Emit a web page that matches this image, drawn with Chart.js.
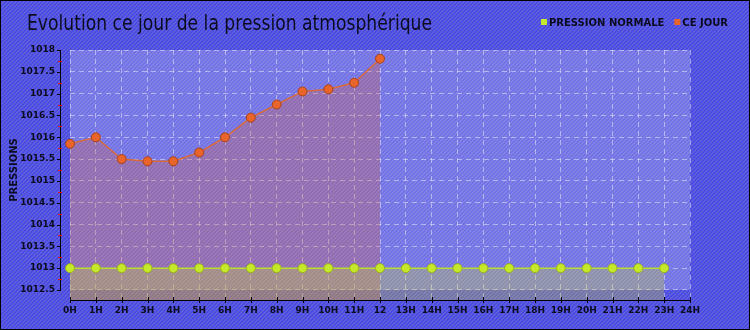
<!DOCTYPE html>
<html>
<head>
<meta charset="utf-8">
<script src="https://cdn.jsdelivr.net/npm/chart.js@4"></script>
<style>
  html, body { margin: 0; padding: 0; background: #5252dd; }
</style>
</head>
<body>
<canvas id="chart" width="750" height="330"></canvas>
<script>
const hours = ['0H', '1H', '2H', '3H', '4H', '5H', '6H', '7H', '8H', '9H', '10H', '11H', '12',
  '13H', '14H', '15H', '16H', '17H', '18H', '19H', '20H', '21H', '22H', '23H', '24H'];
const normalPressure = [1013, 1013, 1013, 1013, 1013, 1013, 1013, 1013, 1013, 1013, 1013, 1013,
  1013, 1013, 1013, 1013, 1013, 1013, 1013, 1013, 1013, 1013, 1013, 1013];
const todayPressure = [1015.85, 1016.0, 1015.5, 1015.45, 1015.45, 1015.65, 1016.0, 1016.45,
  1016.75, 1017.05, 1017.1, 1017.25, 1017.8];
const yTicks = [1012.5, 1013, 1013.5, 1014, 1014.5, 1015, 1015.5, 1016, 1016.5, 1017, 1017.5, 1018];

const titleText = 'Evolution ce jour de la pression atmosphérique';
const labelFont = { family: 'DejaVu Sans', size: 9, weight: 'bold' };

// diagonal stripes like the original background
function stripes(c1, c2) {
  const p = document.createElement('canvas');
  p.width = 4; p.height = 4;
  const g = p.getContext('2d');
  g.fillStyle = c1;
  g.fillRect(0, 0, 4, 4);
  g.fillStyle = c2;
  for (let x = 0; x < 4; x++) {
    for (let y = 0; y < 4; y++) {
      if ((x + y) % 4 < 2) g.fillRect(x, y, 1, 1);
    }
  }
  return g.createPattern(p, 'repeat');
}

const decor = {
  id: 'decor',
  beforeDraw(chart) {
    const ctx = chart.ctx;
    const area = chart.chartArea;
    const ys = chart.scales.y;
    ctx.save();
    ctx.fillStyle = stripes('#4848e2', '#6060dc');
    ctx.fillRect(0, 0, chart.width, chart.height);
    // lighter plot background
    ctx.fillStyle = 'rgba(255,255,255,0.22)';
    const bottom = ys.getPixelForValue(yTicks[0]);
    ctx.fillRect(area.left, area.top, area.right - area.left, bottom - area.top);
    // frame
    ctx.strokeStyle = '#000';
    ctx.lineWidth = 1;
    ctx.strokeRect(0.5, 0.5, chart.width - 1, chart.height - 1);
    // title, squeezed to the width of the original condensed face
    ctx.fillStyle = '#0c0c20';
    ctx.font = '21px "DejaVu Sans", sans-serif';
    ctx.textBaseline = 'alphabetic';
    const tw = ctx.measureText(titleText).width;
    ctx.save();
    ctx.translate(27, 30);
    ctx.scale(405 / tw, 1);
    ctx.fillText(titleText, 0, 0);
    ctx.restore();
    // legend
    ctx.font = 'bold 10px "DejaVu Sans"';
    let x = 541;
    chart.data.datasets.forEach(ds => {
      ctx.fillStyle = ds.pointBackgroundColor;
      ctx.fillRect(x, 19, 6, 6);
      ctx.fillStyle = '#0c0c20';
      const t = ds.label.toUpperCase();
      ctx.fillText(t, x + 8, 26);
      x += 8 + ctx.measureText(t).width + 10;
    });
    // y axis title
    ctx.translate(17, 170);
    ctx.rotate(-Math.PI / 2);
    ctx.textAlign = 'center';
    ctx.fillText('PRESSIONS', 0, 0);
    ctx.restore();
  },
  afterDraw(chart) {
    const ctx = chart.ctx;
    const area = chart.chartArea;
    const ys = chart.scales.y;
    const xs = chart.scales.x;
    ctx.save();
    ctx.lineWidth = 1;
    ctx.strokeStyle = '#000';
    // y axis
    const yTop = ys.getPixelForValue(yTicks[yTicks.length - 1]);
    const yBot = ys.getPixelForValue(yTicks[0]);
    ctx.beginPath();
    ctx.moveTo(60.5, yTop);
    ctx.lineTo(60.5, yBot);
    yTicks.forEach(v => {
      const p = Math.round(ys.getPixelForValue(v)) + 0.5;
      ctx.moveTo(57, p);
      ctx.lineTo(61, p);
    });
    ctx.stroke();
    ctx.strokeStyle = '#e01010';
    ctx.beginPath();
    for (let i = 0; i < yTicks.length - 1; i++) {
      const p = Math.round(ys.getPixelForValue((yTicks[i] + yTicks[i + 1]) / 2)) + 0.5;
      ctx.moveTo(58, p);
      ctx.lineTo(62, p);
    }
    ctx.stroke();
    // x axis
    ctx.strokeStyle = '#000';
    ctx.beginPath();
    ctx.moveTo(area.left, area.bottom + 0.5);
    ctx.lineTo(area.right, area.bottom + 0.5);
    hours.forEach((h, i) => {
      const p = Math.round(xs.getPixelForValue(i)) + 0.5;
      ctx.moveTo(p, area.bottom - 3);
      ctx.lineTo(p, area.bottom + 3);
    });
    ctx.stroke();
    ctx.restore();
  }
};

const gridColor = 'rgba(255,255,255,0.45)';

new Chart(document.getElementById('chart'), {
  type: 'line',
  data: {
    labels: hours,
    datasets: [
      {
        label: 'Pression normale',
        data: normalPressure,
        borderColor: '#b8dc30',
        borderWidth: 1.5,
        backgroundColor: 'rgba(205,215,50,0.3)',
        fill: 'start',
        pointRadius: 4.5,
        pointBackgroundColor: '#c6e82a',
        pointBorderColor: '#9cb41c',
        pointBorderWidth: 1,
        tension: 0
      },
      {
        label: 'Ce jour',
        data: todayPressure,
        borderColor: '#d86a3c',
        borderWidth: 1.5,
        backgroundColor: 'rgba(215,100,70,0.3)',
        fill: 'start',
        pointRadius: 4.5,
        pointBackgroundColor: '#e8642a',
        pointBorderColor: '#a8421c',
        pointBorderWidth: 1,
        tension: 0
      }
    ]
  },
  options: {
    responsive: false,
    animation: false,
    layout: { padding: { top: 50, right: 60, left: 0, bottom: 0 } },
    plugins: {
      legend: { display: false },
      title: { display: false },
      tooltip: { enabled: false }
    },
    scales: {
      x: {
        offset: false,
        grid: { color: gridColor, drawTicks: false },
        border: { display: false, dash: [5, 4] },
        ticks: { color: '#0c0c20', font: labelFont, padding: 5, maxRotation: 0, autoSkip: false },
        afterFit: s => { s.height = 30; }
      },
      y: {
        min: 1012.27,
        max: 1018,
        afterBuildTicks: s => { s.ticks = yTicks.map(v => ({ value: v })); },
        grid: { color: gridColor, drawTicks: false },
        border: { display: false, dash: [5, 4] },
        ticks: { color: '#0c0c20', font: labelFont, padding: 15, callback: v => String(v) },
        afterFit: s => { s.width = 70; }
      }
    }
  },
  plugins: [decor]
});
</script>
</body>
</html>
